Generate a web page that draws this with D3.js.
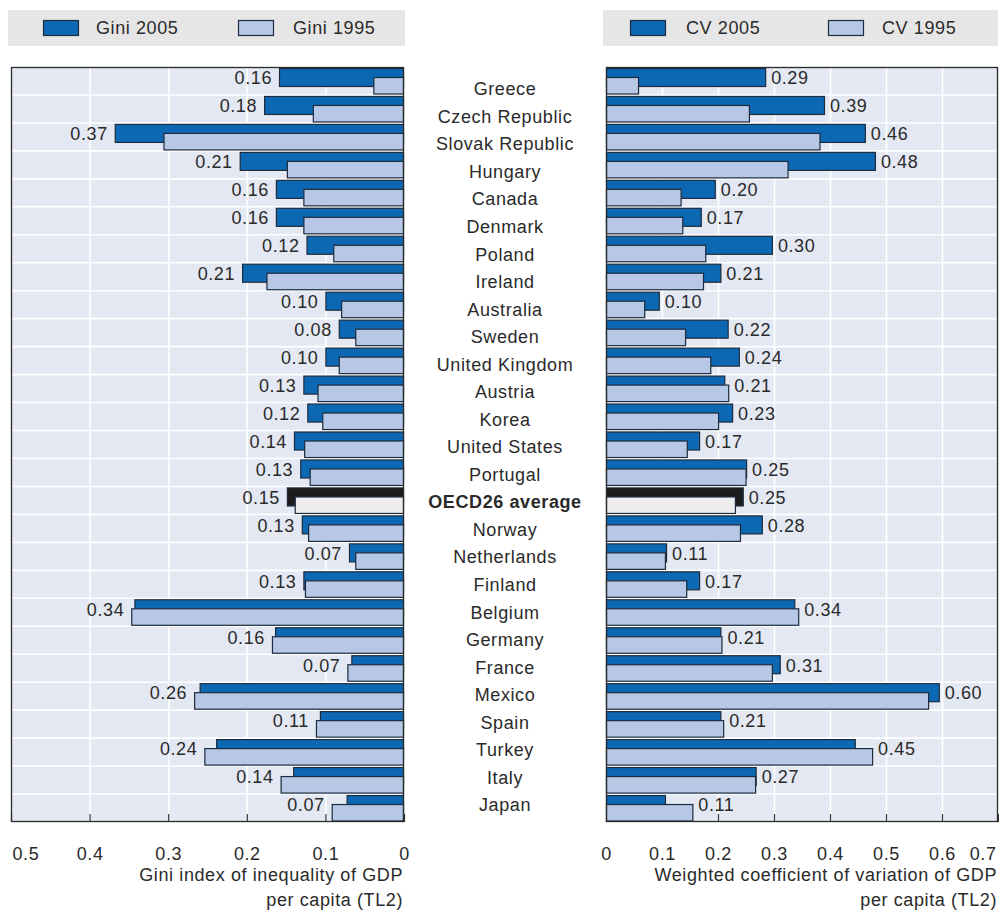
<!DOCTYPE html>
<html>
<head>
<meta charset="utf-8">
<script src="https://cdn.jsdelivr.net/npm/d3@7"></script>
<style>
  html, body { margin: 0; padding: 0; background: #ffffff; }
  svg { display: block; }
  text { font-family: "Liberation Sans", Arial, sans-serif; fill: #2a2a2a; }
</style>
</head>
<body>
<svg id="chart" width="999" height="914"></svg>
<script>
const categories = ["Greece","Czech Republic","Slovak Republic","Hungary","Canada","Denmark","Poland","Ireland","Australia","Sweden","United Kingdom","Austria","Korea","United States","Portugal","OECD26 average","Norway","Netherlands","Finland","Belgium","Germany","France","Mexico","Spain","Turkey","Italy","Japan"];
const gini2005 = [0.159,0.178,0.368,0.209,0.163,0.163,0.124,0.206,0.100,0.083,0.100,0.128,0.123,0.140,0.132,0.149,0.130,0.070,0.128,0.343,0.164,0.067,0.260,0.107,0.239,0.141,0.073];
const gini1995 = [0.039,0.116,0.306,0.149,0.128,0.128,0.090,0.175,0.080,0.062,0.083,0.110,0.104,0.127,0.120,0.139,0.122,0.062,0.126,0.347,0.168,0.072,0.267,0.112,0.254,0.157,0.092];
const cv2005 = [0.286,0.391,0.464,0.482,0.196,0.171,0.298,0.206,0.096,0.219,0.239,0.213,0.227,0.168,0.252,0.246,0.280,0.109,0.168,0.338,0.206,0.312,0.596,0.206,0.446,0.269,0.107];
const cv1995 = [0.059,0.257,0.383,0.326,0.135,0.138,0.179,0.175,0.070,0.143,0.188,0.220,0.202,0.146,0.251,0.232,0.241,0.107,0.145,0.345,0.208,0.298,0.577,0.211,0.477,0.268,0.156];
const giniTicks = [0.5,0.4,0.3,0.2,0.1,0];
const cvTicks = [0,0.1,0.2,0.3,0.4,0.5,0.6,0.7];
const legendLeft = ["Gini 2005","Gini 1995"];
const legendRight = ["CV 2005","CV 1995"];
const titleLeft = ["Gini index of inequality of GDP","per capita (TL2)"];
const titleRight = ["Weighted coefficient of variation of GDP","per capita (TL2)"];
const highlight = "OECD26 average";

const C = {
  dark: "#0d68b4", light: "#b6c8e6", outline: "#1d2b3d",
  avgDark: "#1c1c1c", avgLight: "#eeeeee",
  plotBg: "#e3e8f3", grid: "#ffffff", legendBg: "#e6e6e6"
};
const FS = 18, LS = "0.6px";

const svg = d3.select("#chart");
const plotTop = 67, plotBottom = 822;
const xL = d3.scaleLinear().domain([0, 0.5]).range([404, 11]);
const xR = d3.scaleLinear().domain([0, 0.7]).range([606, 998]);
const y = d3.scaleBand().domain(categories).range([plotTop, plotBottom]);
const yLab = d3.scalePoint().domain(categories).range([89, 805]);
const fmt = d3.format(".2f");

function panel(x, ticks, v05, v95, side) {
  const g = svg.append("g");
  const [r0, r1] = x.range();
  const x0 = Math.min(r0, r1), x1 = Math.max(r0, r1);
  g.append("rect").attr("x", x0).attr("y", plotTop).attr("width", x1 - x0).attr("height", plotBottom - plotTop).attr("fill", C.plotBg);
  g.append("g").attr("transform", `translate(0,${plotBottom})`)
    .call(d3.axisBottom(x).tickValues(ticks.filter(t => t > 0 && t < x.domain()[1] - 1e-9)).tickSize(-(plotBottom - plotTop)).tickFormat(""))
    .call(a => a.select(".domain").remove())
    .call(a => a.selectAll("line").attr("stroke", C.grid).attr("stroke-width", 1.6));
  g.selectAll("line.hg").data(categories.slice(1)).join("line")
    .attr("x1", x0).attr("x2", x1)
    .attr("y1", d => y(d)).attr("y2", d => y(d))
    .attr("stroke", C.grid).attr("stroke-width", 1.6);
  g.append("g").attr("transform", `translate(0,${plotBottom})`)
    .call(d3.axisBottom(x).tickValues(ticks).tickSize(-8).tickFormat(""))
    .call(a => a.select(".domain").remove())
    .call(a => a.selectAll("line").attr("stroke", "#333").attr("stroke-width", 1.2));
  const zero = x(0);
  const bx = v => Math.min(zero, x(v));
  const bw = v => Math.abs(x(v) - zero);
  g.selectAll("rect.b05").data(categories).join("rect")
    .attr("x", (d, i) => bx(v05[i]) + 0.5).attr("y", d => y(d) + 1.5)
    .attr("width", (d, i) => bw(v05[i]) - 1).attr("height", 18)
    .attr("fill", d => d === highlight ? C.avgDark : C.dark)
    .attr("stroke", C.outline).attr("stroke-width", 1.2);
  g.selectAll("rect.b95").data(categories).join("rect")
    .attr("x", (d, i) => bx(v95[i]) + 0.5).attr("y", d => y(d) + 10.5)
    .attr("width", (d, i) => bw(v95[i]) - 1).attr("height", 16.5)
    .attr("fill", d => d === highlight ? C.avgLight : C.light)
    .attr("stroke", C.outline).attr("stroke-width", 1.2);
  g.append("rect").attr("x", x0 + 0.5).attr("y", plotTop + 0.5).attr("width", x1 - x0 - 1).attr("height", plotBottom - plotTop - 1)
    .attr("fill", "none").attr("stroke", "#2b2b2b").attr("stroke-width", 1.3);
  g.selectAll("text.val").data(categories).join("text")
    .attr("x", (d, i) => side === "left" ? Math.min(x(v05[i]), x(v95[i])) - 7 : Math.max(x(v05[i]), x(v95[i])) + 5)
    .attr("y", d => y(d) + 11).attr("dy", "0.35em")
    .attr("text-anchor", side === "left" ? "end" : "start")
    .attr("font-size", FS).attr("letter-spacing", LS)
    .text((d, i) => fmt(v05[i]));
  const ax = g.append("g").attr("transform", `translate(0,${plotBottom})`)
    .call(d3.axisBottom(x).tickValues(ticks).tickSize(0).tickFormat(d => d === 0 ? "0" : d3.format(".1f")(d)));
  ax.select(".domain").remove();
  ax.selectAll("text").attr("y", 38).attr("dy", 0)
    .attr("font-size", FS).attr("letter-spacing", LS)
    .attr("font-family", "Liberation Sans, Arial, sans-serif").attr("fill", "#2a2a2a");
  const maxV = x.domain()[1];
  ax.selectAll(".tick").filter(d => Math.abs(d - maxV) < 1e-9).select("text")
    .attr("text-anchor", side === "left" ? "start" : "end")
    .attr("x", side === "left" ? 1 : -2);
}

panel(xL, giniTicks, gini2005, gini1995, "left");
panel(xR, cvTicks, cv2005, cv1995, "right");

svg.append("g").selectAll("text").data(categories).join("text")
  .attr("x", 505).attr("y", d => yLab(d)).attr("dy", "0.35em")
  .attr("text-anchor", "middle").attr("font-size", FS).attr("letter-spacing", LS)
  .attr("font-weight", d => d === highlight ? "bold" : "normal")
  .text(d => d);

function title(lines, xEnd) {
  svg.append("g").selectAll("text").data(lines).join("text")
    .attr("x", xEnd).attr("y", (d, i) => 881 + i * 25)
    .attr("text-anchor", "end").attr("font-size", FS).attr("letter-spacing", LS)
    .text(d => d);
}
title(titleLeft, 403);
title(titleRight, 997);

function legend(labels, x0, x1, swX, txX) {
  const g = svg.append("g");
  g.append("rect").attr("x", x0).attr("y", 10).attr("width", x1 - x0).attr("height", 36).attr("fill", C.legendBg);
  const fills = [C.dark, C.light];
  labels.forEach((lab, i) => {
    g.append("rect").attr("x", swX[i] + 0.5).attr("y", 20.5).attr("width", 35).attr("height", 15)
      .attr("fill", fills[i]).attr("stroke", C.outline).attr("stroke-width", 1.2);
    g.append("text").attr("x", txX[i]).attr("y", 28).attr("dy", "0.35em")
      .attr("font-size", FS).attr("letter-spacing", LS).text(lab);
  });
}
legend(legendLeft, 8, 405, [43, 238], [96, 293]);
legend(legendRight, 603, 998, [630, 828], [686, 882]);
</script>
</body>
</html>
